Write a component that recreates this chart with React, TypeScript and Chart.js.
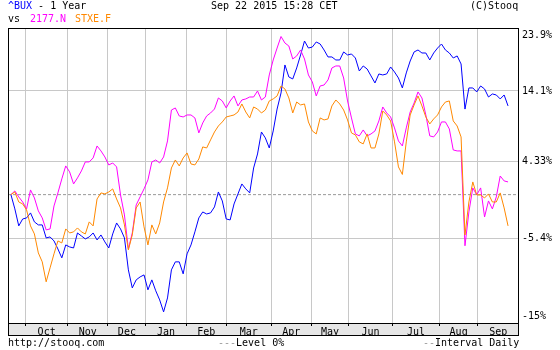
import React, { useEffect, useRef } from 'react';
import { Chart, registerables } from 'chart.js';

Chart.register(...registerables);

// ---- data (percent change vs. Sep 22 2014), one sample every 2 trading days ----
const STEP = 2;
const bux = [
  0, -1.8, -3.9, -3.05, -2.92, -2.3, -3.41, -3.78, -3.78, -5.36,
  -5.24, -5.72, -6.68, -7.73, -6.2, -6.44, -6.56, -4.76, -5.12, -5.48,
  -5.24, -4.76, -5.6, -5.0, -5.84, -6.56, -4.88, -3.54, -4.27, -5.36,
  -9.13, -11.19, -10.28, -9.94, -9.71, -11.41, -10.28, -11.52, -12.54, -13.86,
  -12.32, -9.13, -8.2, -8.2, -9.59, -7.26, -6.2, -4.63, -2.92, -2.18,
  -2.43, -2.3, -1.55, 0.34, -0.8, -3.05, -3.17, -1.18, 0.09, 1.37,
  0.73, 0.22, 3.45, 5.31, 8.3, 7.48, 6.12, 8.44, 11.51, 13.81,
  17.94, 16.15, 15.86, 17.49, 19.45, 21.59, 20.51, 20.66, 21.44, 21.13,
  20.21, 19.15, 19.15, 18.69, 18.69, 19.91, 19.45, 19.6, 18.99, 17.04,
  17.79, 17.34, 16.3, 15.27, 16.6, 16.45, 16.6, 17.64, 16.89, 16.0,
  14.54, 16.75, 18.54, 19.91, 20.21, 19.75, 19.75, 18.69, 19.75, 20.51,
  21.13, 20.21, 19.75, 18.99, 19.3, 18.09, 11.5, 14.54, 14.54, 13.96,
  14.83, 14.39, 13.23, 13.67, 13.52, 12.95, 13.52, 11.95,
];
const n2177 = [
  0, 0.47, -0.29, -0.93, -1.8, 0.6, -0.42, -2.05, -2.92, -4.39,
  -4.27, -1.43, 0.22, 2.02, 3.72, 2.93, 1.37, 2.15, 3.06, 4.25,
  4.25, 4.78, 6.39, 5.72, 4.91, 3.85, 4.11, 3.59, -0.04, -2.55,
  -6.68, -4.76, -1.3, -0.29, 0.73, 1.89, 4.25, 4.51, 4.11, 4.91,
  7.07, 11.37, 11.66, 10.53, 10.39, 10.67, 10.67, 10.25, 8.17, 9.55,
  10.53, 10.95, 11.51, 13.09, 12.66, 11.66, 12.66, 13.38, 11.95, 12.8,
  12.95, 13.23, 13.23, 14.1, 12.8, 13.23, 16.45, 18.69, 20.51, 22.29,
  21.28, 20.82, 18.84, 19.3, 20.21, 18.84, 16.45, 15.42, 13.38, 14.83,
  14.97, 15.71, 17.49, 17.79, 17.79, 16.0, 12.66, 10.25, 8.03, 7.76,
  8.58, 7.76, 8.03, 8.44, 9.83, 11.8, 10.95, 10.39, 8.86, 7.07,
  6.39, 8.86, 11.09, 12.37, 13.96, 13.09, 10.67, 7.76, 7.62, 8.3,
  9.69, 9.69, 8.72, 5.85, 5.72, 5.72, -6.3, -2.18, 0.86, -0.04,
  0.86, -2.8, -0.8, -1.8, -0.29, 2.4, 1.76, 1.63,
];
const stxe = [
  0, 0.34, -0.93, -1.18, -1.93, -3.9, -4.88, -7.15, -8.2, -10.5,
  -8.9, -7.26, -5.72, -5.96, -4.27, -4.76, -4.63, -4.15, -4.63, -4.88,
  -3.41, -3.9, -0.55, 0.22, 0.09, 0.34, 0.73, -0.55, -1.68, -3.78,
  -6.8, -5.0, -1.68, -0.93, -4.02, -6.2, -3.78, -4.88, -3.54, -0.93,
  0.86, 3.45, 4.51, 3.72, 4.78, 5.45, 3.98, 3.85, 4.64, 6.26,
  6.12, 7.21, 8.3, 9.13, 9.69, 10.39, 10.53, 10.67, 11.09, 12.23,
  11.09, 10.25, 11.8, 11.51, 10.95, 11.37, 12.66, 12.95, 13.38, 14.83,
  14.39, 13.09, 10.95, 12.51, 12.09, 12.23, 9.69, 8.44, 8.03, 10.25,
  9.97, 10.11, 11.95, 12.8, 12.23, 11.37, 9.97, 8.17, 7.89, 6.94,
  6.67, 8.03, 6.12, 6.12, 8.03, 11.23, 10.67, 9.83, 6.94, 3.59,
  2.6, 6.94, 10.67, 12.09, 13.38, 11.95, 10.39, 9.41, 10.11, 10.67,
  11.8, 12.51, 12.66, 9.83, 9.13, 7.62, -5.0, -0.93, 1.63, -0.04,
  -0.04, -0.42, 0.09, -0.93, -0.93, 0.22, -1.68, -3.9,
];

// months: label and trading-day index where each month begins
const monthLabels = ['Oct', 'Nov', 'Dec', 'Jan', 'Feb', 'Mar', 'Apr', 'May', 'Jun', 'Jul', 'Aug', 'Sep'];
const monthStarts = [7.5, 29, 49.5, 69, 89.5, 110, 133, 153.5, 172.5, 195, 219, 238.5];
const X_MIN = -1.5;
const X_MAX = 259.6;

// y axis (ratio scale on 100 + %)
const Y_MIN_PCT = -15.07;
const Y_MAX_PCT = 23.62;
const yTickValues = [23.9, 14.1, 4.33, -5.4, -15];
const yTickLabels = ['23.9%', '14.1%', '4.33%', '-5.4%', '-15%'];
const LEVEL = 0;

const titleMain = '^BUX';
const titleRest = ' - 1 Year';
const dateText = 'Sep 22 2015 15:28 CET';
const copyText = '(C)Stooq';
const cmpA = '2177.N';
const cmpB = 'STXE.F';

const BLUE = '#0000ff';
const MAGENTA = '#ff00ff';
const ORANGE = '#ff8800';
const GRID = '#c8c8c8';
const FONT = '"DejaVu Sans Mono", "Liberation Mono", monospace';

const frameAndBand = {
  id: 'frameAndBand',
  beforeDraw(chart: any) {
    const { ctx, chartArea } = chart;
    const xl = chart.scales.xl;
    ctx.save();
    ctx.fillStyle = '#e6e6e6';
    ctx.fillRect(chartArea.left, xl.top, chartArea.right - chartArea.left, xl.bottom - xl.top);
    ctx.restore();
  },
  afterDraw(chart: any) {
    const { ctx, chartArea } = chart;
    const xl = chart.scales.xl;
    ctx.save();
    ctx.strokeStyle = '#000';
    ctx.lineWidth = 1;
    ctx.strokeRect(
      chartArea.left + 0.5,
      chartArea.top + 0.5,
      chartArea.right - chartArea.left - 1,
      xl.bottom - chartArea.top - 1
    );
    ctx.beginPath();
    ctx.moveTo(chartArea.left, chartArea.bottom + 0.5);
    ctx.lineTo(chartArea.right, chartArea.bottom + 0.5);
    ctx.stroke();
    ctx.restore();
  },
};

export default function App() {
  const ref = useRef<HTMLCanvasElement>(null);

  useEffect(() => {
    if (!ref.current) return;
    const toPts = (arr: number[]) => arr.map((p, i) => ({ x: i * STEP, y: 100 + p }));
    const yMin = 100 + Y_MIN_PCT;
    const yMax = 100 + Y_MAX_PCT;
    const lnMin = Math.log(yMin);
    const lnMax = Math.log(yMax);
    const PLOT_H = 295;
    const topPinned = Math.exp(lnMax - (7 / PLOT_H) * (lnMax - lnMin));
    const botPinned = Math.exp(lnMin + (6.3 / PLOT_H) * (lnMax - lnMin));
    const last = yTickValues.length - 1;

    const line = (label: string, data: any[], color: string, order: number) => ({
      label,
      data,
      borderColor: color,
      borderWidth: 1,
      pointRadius: 0,
      fill: false,
      tension: 0,
      order,
    });

    const chart = new Chart(ref.current, {
      type: 'line',
      data: {
        datasets: [
          {
            ...line('Level 0%', [{ x: X_MIN, y: 100 + LEVEL }, { x: X_MAX, y: 100 + LEVEL }], '#999999', 10),
            borderDash: [3, 2],
          },
          line('^BUX', toPts(bux), BLUE, 3),
          line('2177.N', toPts(n2177), MAGENTA, 2),
          line('STXE.F', toPts(stxe), ORANGE, 1),
        ] as any,
      },
      options: {
        responsive: false,
        animation: false,
        devicePixelRatio: 1,
        layout: { padding: { left: 8, top: 28, right: 0, bottom: 14 } },
        plugins: { legend: { display: false }, tooltip: { enabled: false }, title: { display: false } },
        scales: {
          x: {
            type: 'linear',
            position: 'bottom',
            bounds: 'data',
            min: X_MIN,
            max: X_MAX,
            weight: 0,
            afterBuildTicks: (s: any) => {
              s.ticks = monthStarts.map((v) => ({ value: v }));
            },
            afterFit: (s: any) => {
              s.height = 0;
            },
            ticks: { display: false, autoSkip: false },
            grid: { color: GRID, tickColor: '#000', tickLength: 3, drawTicks: true, lineWidth: 1 },
            border: { display: false },
          },
          xl: {
            type: 'linear',
            position: 'bottom',
            bounds: 'data',
            min: X_MIN,
            max: X_MAX,
            weight: 1,
            afterBuildTicks: (s: any) => {
              const edges = [...monthStarts, X_MAX];
              s.ticks = monthStarts.map((v, i) => ({ value: (v + edges[i + 1]) / 2 }));
            },
            afterFit: (s: any) => {
              s.height = 13;
            },
            ticks: {
              autoSkip: false,
              maxRotation: 0,
              padding: 3,
              color: '#000',
              font: { family: FONT, size: 10 },
              callback: (_v: any, i: number) => monthLabels[i],
            },
            grid: { display: false, drawTicks: false },
            border: { display: false },
          },
          y: {
            type: 'logarithmic',
            position: 'right',
            bounds: 'data',
            min: yMin,
            max: yMax,
            afterBuildTicks: (s: any) => {
              s.ticks = yTickValues.map((v, i) => ({
                value: i === 0 ? topPinned : i === last ? botPinned : 100 + v,
              }));
            },
            afterFit: (s: any) => {
              s.width = 41;
            },
            ticks: {
              autoSkip: false,
              padding: 3,
              color: '#000',
              font: { family: FONT, size: 10 },
              callback: (_v: any, i: number) => yTickLabels[i],
            },
            grid: {
              drawTicks: false,
              lineWidth: 1,
              color: (ctx: any) => (ctx.index === 0 || ctx.index === last ? 'rgba(0,0,0,0)' : GRID),
            },
            border: { display: false },
          },
        },
      } as any,
      plugins: [frameAndBand],
    });
    return () => chart.destroy();
  }, []);

  const txt: React.CSSProperties = {
    position: 'absolute',
    fontFamily: FONT,
    fontSize: 10,
    lineHeight: '12px',
    whiteSpace: 'pre',
    color: '#000',
  };

  return (
    <div style={{ position: 'fixed', left: 0, top: 0, width: 560, height: 350, background: '#fff', overflow: 'hidden' }}>
      <canvas ref={ref} width={560} height={350} style={{ display: 'block', position: 'absolute', left: 0, top: 0 }} />
      <span style={{ ...txt, left: 8, top: 0 }}>
        <span style={{ color: BLUE }}>{titleMain}</span>
        {titleRest}
      </span>
      <span style={{ ...txt, left: 211, top: 0 }}>{dateText}</span>
      <span style={{ ...txt, left: 470, top: 0 }}>{copyText}</span>
      <span style={{ ...txt, left: 8, top: 13 }}>vs</span>
      <span style={{ ...txt, left: 30, top: 13, color: MAGENTA }}>{cmpA}</span>
      <span style={{ ...txt, left: 75, top: 13, color: ORANGE }}>{cmpB}</span>
      <span style={{ ...txt, left: 8, top: 337 }}>http://stooq.com</span>
      <span style={{ ...txt, left: 218, top: 337 }}>
        <span style={{ color: '#999' }}>---</span>Level 0%
      </span>
      <span style={{ ...txt, left: 423, top: 337 }}>
        <span style={{ color: '#999' }}>--</span>Interval Daily
      </span>
    </div>
  );
}
